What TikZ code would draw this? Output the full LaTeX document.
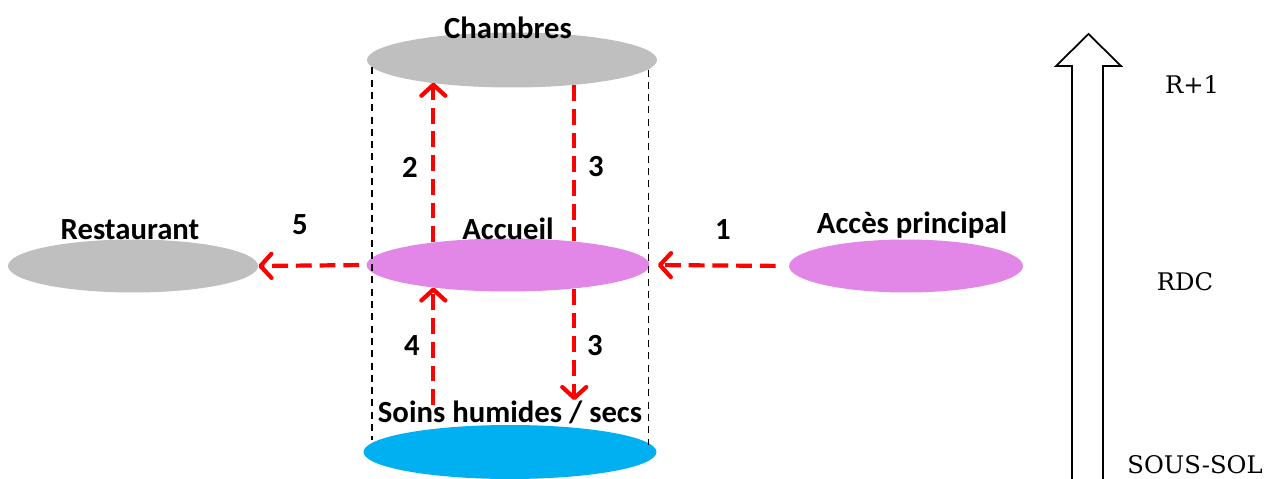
\documentclass[tikz,border=0pt]{standalone}
\usepackage{fontspec}
\setmainfont{Carlito}
\newfontfamily\levelfont{DejaVu Serif}
\usetikzlibrary{shapes.geometric, arrows.meta, positioning}

\definecolor{zonegray}{RGB}{191,191,191}
\definecolor{zonepink}{RGB}{226,135,232}
\definecolor{zoneblue}{RGB}{0,176,240}

\begin{document}
\begin{tikzpicture}[
    x=0.02cm, y=-0.02cm,
    zone/.style={ellipse, draw=none, inner sep=0pt},
    title/.style={font=\fontsize{17.5}{20}\selectfont\bfseries, inner sep=0pt},
    num/.style={font=\fontsize{17.5}{20}\selectfont\bfseries, inner sep=0pt},
    level/.style={font=\levelfont\fontsize{13.8}{16}\selectfont, inner sep=0pt},
    flow/.style={-{Straight Barb[length=2.2mm, width=4.8mm, round]}, red, line width=2.4pt, dash pattern=on 9pt off 4.5pt},
    flowline/.style={red, line width=2.4pt, dash pattern=on 9pt off 4.5pt},
    guide/.style={black, line width=0.8pt, dash pattern=on 4pt off 3pt},
]
\useasboundingbox (0,0) rectangle (1271,479);

% Zones
\node[zone, fill=zonegray, minimum width=5.8cm, minimum height=1.1cm] (chambres) at (512,60) {};
\node[zone, fill=zonepink, minimum width=5.66cm, minimum height=1.06cm] (accueil) at (508,265) {};
\node[zone, fill=zoneblue, minimum width=5.86cm, minimum height=1.08cm] (soins) at (510,452) {};
\node[zone, fill=zonegray, minimum width=5cm, minimum height=1.06cm] (restaurant) at (133,266) {};
\node[zone, fill=zonepink, minimum width=4.68cm, minimum height=1.06cm] (acces) at (906,266) {};

% Zone names
\node[title] (tchambres) at (508,28) {Chambres};
\node[title] (taccueil) at (508,229) {Accueil};
\node[title] (trestaurant) at (130,230) {Restaurant};
\node[title] (tacces) at (912,225) {Accès principal};
\node[title] (tsoins) at (510,412) {Soins humides / secs};

% Vertical guides
\draw[guide] (chambres.183.8) -- (chambres.183.8 |- soins.175.3);
\draw[guide] (chambres.356.2) -- (chambres.356.2 |- soins.3.5);

% Flows
\draw[flow, shorten <=0.26cm, shorten >=0.16cm] (acces.west) -- (accueil.east);
\draw[flow] (accueil.163.9) -- (accueil.163.9 |- chambres.195.4);
\draw[flowline] (chambres.338.1) -- (chambres.338.1 |- accueil.19.5);
\draw[flow] (chambres.338.1 |- accueil.340.5) -- (chambres.338.1 |- tsoins.north);
\draw[flow] ([yshift=-0.1cm]tsoins.north -| accueil.163.9) -- (accueil.163.9 |- accueil.196.1);
\draw[flow, shorten <=0.14cm] (accueil.west) -- (restaurant.east);

% Flow numbers
\node[num] (n1) at (723,230) {1};
\node[num] (n2) at (410,167) {2};
\node[num] (n3a) at (596,167) {3};
\node[num] (n3b) at (595,346) {3};
\node[num] (n4) at (412,346) {4};
\node[num] (n5) at (300,225) {5};

% Level arrow
\draw[line width=1pt, fill=white] (1072,485) -- (1072,66) -- (1056,66) -- (1088.5,34) -- (1121,66) -- (1103,66) -- (1103,485);

% Levels
\node[level] (r1) at (1192,85) {R+1};
\node[level] (rdc) at (1185,282) {RDC};
\node[level] (ss) at (1195,465) {SOUS-SOL};

\end{tikzpicture}
\end{document}
